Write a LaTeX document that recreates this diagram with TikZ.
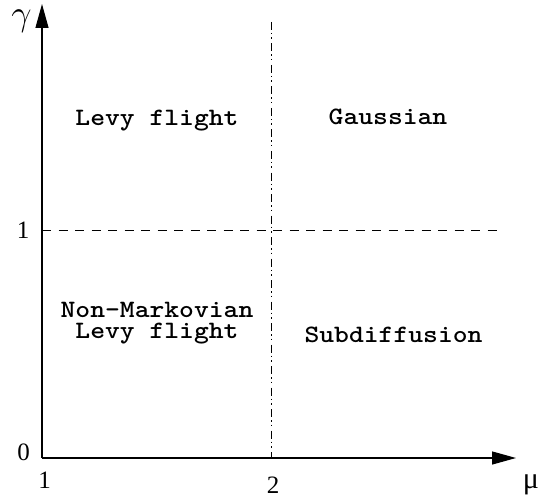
\documentclass[tikz,border=0pt]{standalone}
\usepackage{fontspec}
\usetikzlibrary{arrows.meta}
% Courier-like bold mono for the region labels, Times-like serif for the axes
\newfontfamily\labelfont[FakeStretch=1.13]{lmmonolt10-bold.otf}
\newfontfamily\numfont{Liberation Serif}
\tikzset{
  axisline/.style={line width=1.2pt, -{Triangle[length=24pt,width=13pt]}},
  guide/.style={line width=0.9pt},
  regionlabel/.style={font=\labelfont\fontsize{25}{20.5}\selectfont, inner sep=0pt, align=center},
  ticklabel/.style={font=\numfont\fontsize{25}{25}\selectfont, inner sep=0pt},
  greeklabel/.style={inner sep=0pt},
}
\begin{document}
\begin{tikzpicture}[x=1pt, y=-1pt]
  \useasboundingbox (0,0) rectangle (548,497);

  % axes
  \coordinate (O) at (42,458);
  \coordinate (ytop) at (42,4);
  \coordinate (xend) at (516,458);
  \draw[axisline] (O) -- (ytop);
  \draw[axisline] (O) -- (xend);

  % boundary lines mu = 2 and gamma = 1
  \coordinate (vtop) at (271,22);
  \coordinate (vbot) at (271,458);
  \coordinate (hleft) at (42,230);
  \coordinate (hright) at (501,230);
  \draw[guide, dash pattern=on 8pt off 3pt on 1.5pt off 3pt on 1.5pt off 4.5pt] (vtop) -- (vbot);
  \draw[guide, dash pattern=on 9pt off 7.5pt] (hleft) -- (hright);

  % axis labels
  \node[greeklabel] (gam) at (21.5,21.5) {\scalebox{1.45}{\fontsize{24.88}{25}\selectfont$\gamma$}};
  \node[greeklabel, font=\numfont\fontsize{30}{30}\selectfont] (mu) at (531,485) {μ};
  \node[ticklabel, anchor=base] (y1) at (23,238) {1};
  \node[ticklabel, anchor=base] (y0) at (23.5,460) {0};
  \node[ticklabel, anchor=base] (x1) at (44.5,488) {1};
  \node[ticklabel, anchor=base] (x2) at (273,493) {2};

  % regions
  \node[regionlabel, anchor=base] (levy) at (157,126) {Levy flight};
  \node[regionlabel, anchor=base] (gauss) at (388,125) {Gaussian};
  \node[regionlabel, anchor=north] (nmlevy) at (157,302.5) {Non-Markovian\\Levy flight};
  \node[regionlabel, anchor=base] (subdiff) at (393.5,342) {Subdiffusion};
\end{tikzpicture}
\end{document}
